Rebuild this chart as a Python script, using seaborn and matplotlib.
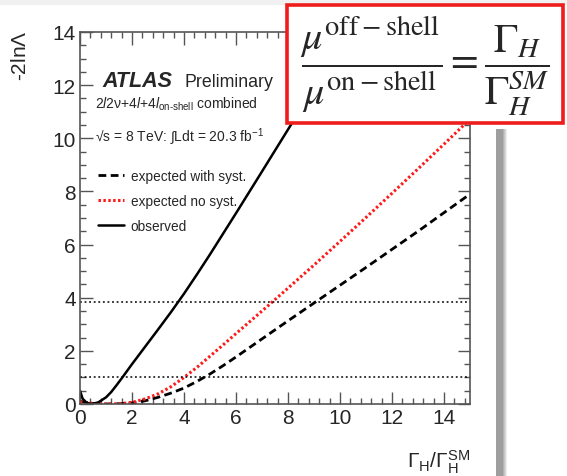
import numpy as np
import pandas as pd
import matplotlib
matplotlib.use("Agg")
import matplotlib.pyplot as plt
from matplotlib.patches import Rectangle
from matplotlib.ticker import MultipleLocator
import seaborn as sns

# Likelihood scan of the Higgs width ratio
gamma_obs = [0.0, 0.1, 0.25, 0.45, 0.7, 1.0, 1.2, 1.4, 1.6, 1.8, 2.0, 2.5,
             3.0, 3.5, 4.0, 4.5, 5.0, 6.0, 7.0, 8.0, 9.0, 10.0, 11.0]
nll_obs = [0.5, 0.2, 0.05, 0.0, 0.06, 0.25, 0.45, 0.7, 0.96, 1.23, 1.5, 2.15,
           2.8, 3.46, 4.15, 4.88, 5.63, 7.18, 8.75, 10.33, 11.9, 13.48, 15.05]

gamma_exp = [0.0, 0.5, 1.0, 1.5, 2.0, 2.5, 3.0, 3.5, 4.0, 4.5, 5.0, 5.5,
             6.0, 7.0, 8.0, 9.0, 10.0, 11.0, 12.0, 13.0, 14.0, 15.0]
nll_exp_syst = [0.1, 0.02, 0.0, 0.01, 0.04, 0.12, 0.25, 0.41, 0.6, 0.85, 1.13,
                1.44, 1.77, 2.45, 3.13, 3.8, 4.47, 5.14, 5.82, 6.5, 7.2, 7.9]
nll_exp_nosyst = [0.08, 0.02, 0.0, 0.01, 0.06, 0.19, 0.38, 0.65, 1.0, 1.38, 1.8,
                  2.22, 2.65, 3.5, 4.36, 5.23, 6.12, 7.02, 7.93, 8.85, 9.78, 10.72]

# 68% and 95% CL thresholds
cl_levels = [1.0, 3.84]

sns.set_theme(style="ticks")
plt.rcParams["font.family"] = ["Liberation Sans", "DejaVu Sans"]
plt.rcParams["mathtext.fontset"] = "custom"
plt.rcParams["mathtext.rm"] = "Liberation Sans"
plt.rcParams["mathtext.it"] = "Liberation Sans:italic"

W, H = 567, 477
fig = plt.figure(figsize=(W / 100, H / 100), dpi=100)
fig.patch.set_facecolor("white")

def fx(px):
    return px / W

def fy(py):
    return 1 - py / H

ax = fig.add_axes([fx(80), fy(405), fx(470) - fx(80), fy(33) - fy(405)])

df_obs = pd.DataFrame({"g": gamma_obs, "nll": nll_obs})
df_exp = pd.DataFrame({"g": gamma_exp, "syst": nll_exp_syst, "nosyst": nll_exp_nosyst})

sns.lineplot(data=df_exp, x="g", y="syst", ax=ax, color="black", lw=2.0,
             linestyle=(0, (2.8, 1.6)), label="expected with syst.", sort=False)
sns.lineplot(data=df_exp, x="g", y="nosyst", ax=ax, color="#ff1a1a", lw=2.2,
             linestyle=(0, (0.8, 0.8)), label="expected no syst.", sort=False)
sns.lineplot(data=df_obs, x="g", y="nll", ax=ax, color="black", lw=1.8,
             label="observed", sort=False)

for lvl in cl_levels:
    ax.axhline(lvl, color="black", lw=1.1, linestyle=(0, (1.2, 1.8)))

ax.set_xlim(0, 15)
ax.set_ylim(0, 14)
ax.xaxis.set_major_locator(MultipleLocator(2))
ax.xaxis.set_minor_locator(MultipleLocator(0.4))
ax.yaxis.set_major_locator(MultipleLocator(2))
ax.yaxis.set_minor_locator(MultipleLocator(0.5))
ax.tick_params(which="both", direction="in", top=True, right=True,
               color="#555555", width=1.0)
ax.tick_params(which="major", length=9, labelsize=15, pad=3)
ax.tick_params(which="minor", length=4.5)
for s in ax.spines.values():
    s.set_color("#555555")
    s.set_linewidth(1.2)
ax.set_xlabel("")
ax.set_ylabel("")

fig.text(fx(20), fy(30), r"-2ln$\Lambda$", rotation=90, ha="center", va="top",
         fontsize=15)
fig.text(fx(470), fy(468), r"$\Gamma_{\rm H}/\Gamma_{\rm H}^{\rm SM}$",
         ha="right", va="baseline", fontsize=15)

fig.text(fx(102), fy(87), "ATLAS", fontsize=15.5, fontweight="bold",
         fontstyle="italic", va="baseline")
fig.text(fx(184), fy(87), "Preliminary", fontsize=12.8, va="baseline")
fig.text(fx(95), fy(109), r"2$l$2ν+4$l$+4$l_{\mathrm{on‐shell}}$ combined",
         fontsize=10, va="baseline")
fig.text(fx(95), fy(142), r"√s = 8 TeV: ∫Ldt = 20.3 fb$^{-1}$",
         fontsize=10, va="baseline")

leg = ax.legend(loc="upper left", bbox_to_anchor=(fx(98), fy(170)),
                bbox_transform=fig.transFigure, frameon=False, fontsize=9.8,
                handlelength=1.9, handletextpad=0.5, labelspacing=0.8,
                borderpad=0, borderaxespad=0)

# light band along the top edge
fig.patches.append(Rectangle((0, fy(6)), 1, fy(0) - fy(6), transform=fig.transFigure,
                             facecolor="#f1f1f1", edgecolor="none", zorder=0.5))

# shaded vertical strip on the right
strip = fig.add_axes([fx(496), 0, fx(508) - fx(496), fy(130)])
grad = np.concatenate([np.full(6, 0.62), np.linspace(0.62, 1.0, 6)])[None, :]
strip.imshow(grad, cmap="gray", vmin=0, vmax=1, aspect="auto")
strip.set_axis_off()

# boxed width-ratio relation
box = Rectangle((fx(287), fy(124)), fx(563) - fx(287), fy(6) - fy(124),
                transform=fig.transFigure, facecolor="white", edgecolor="#ee1c1c",
                linewidth=2.6, zorder=5)
fig.patches.append(box)
fig.text(fx(425), fy(66),
         r"$\dfrac{\mu^{\mathrm{off-shell}}}{\mu^{\mathrm{on-shell}}}=\dfrac{\Gamma_H}{\Gamma_H^{SM}}$",
         ha="center", va="center", fontsize=29, math_fontfamily="stix", zorder=6)

fig.savefig("out.png", dpi=100)
